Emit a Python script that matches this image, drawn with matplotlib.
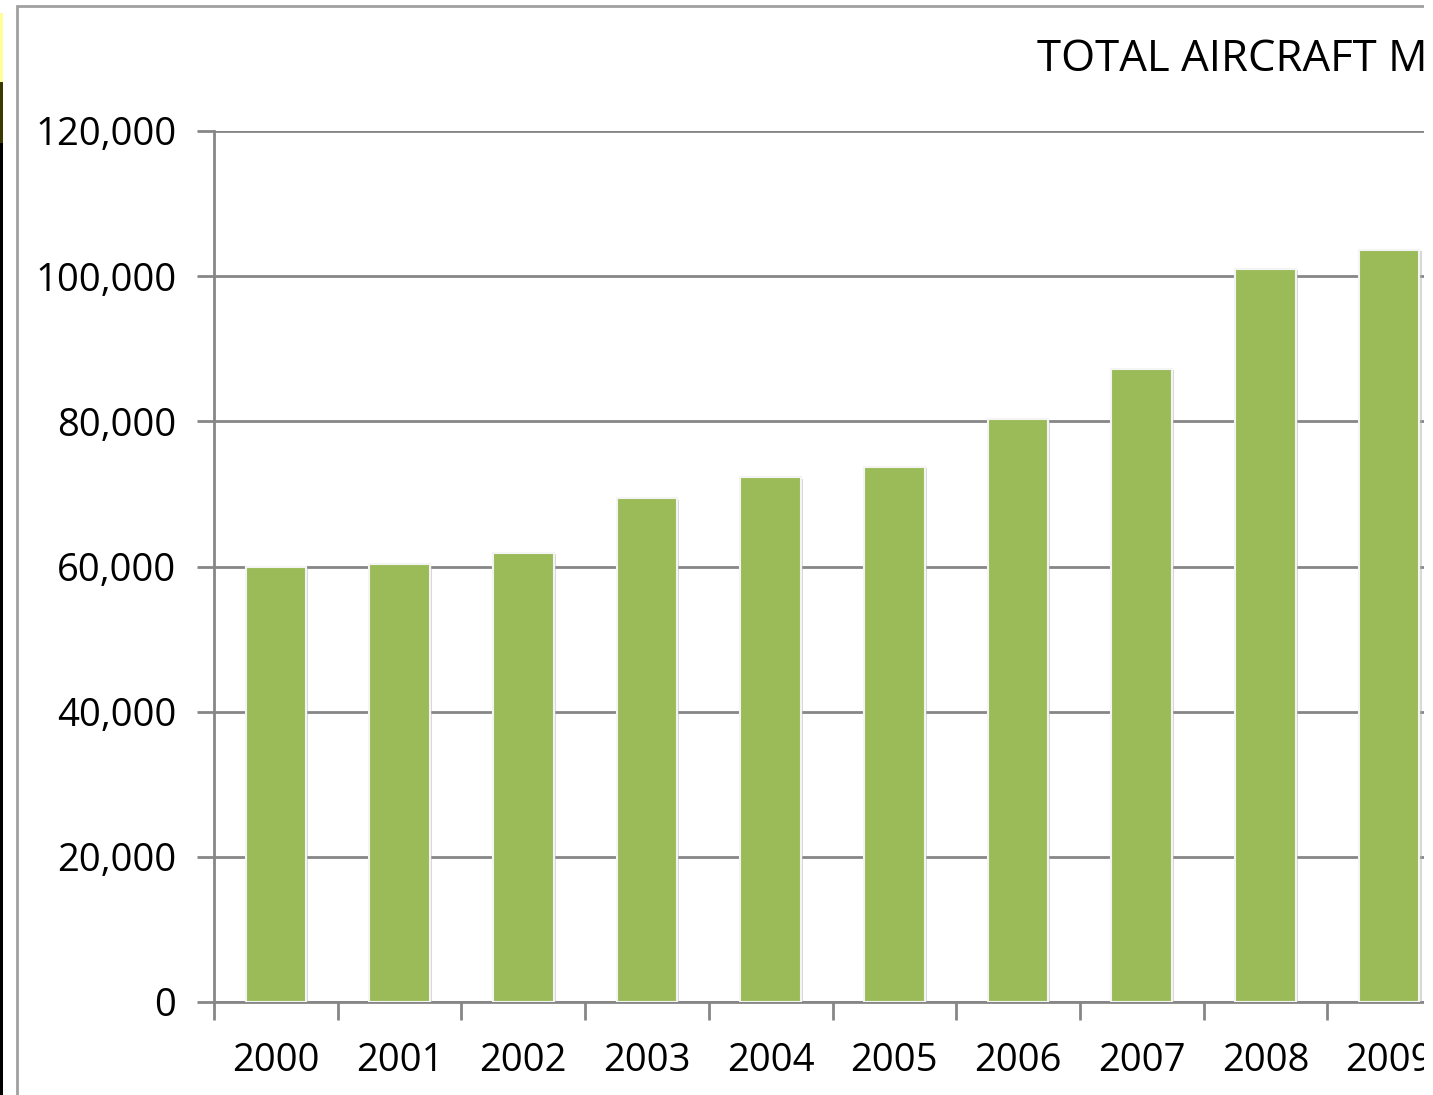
import numpy as np
import matplotlib.pyplot as plt
from matplotlib.patches import Rectangle
import matplotlib.patheffects as pe
from matplotlib.ticker import FuncFormatter

years = ['2000', '2001', '2002', '2003', '2004', '2005', '2006', '2007', '2008', '2009']
movements = [60000, 60300, 61900, 69400, 72300, 73700, 80300, 87200, 101000, 103600]

plt.rcParams['font.family'] = ['Open Sans', 'DejaVu Sans']

W, H = 1433, 1095
fig = plt.figure(figsize=(W / 100, H / 100), dpi=100)
fig.patch.set_facecolor('white')

# axes run past the right edge, the source picture is cropped there
ax = fig.add_axes([214 / W, (H - 1002) / H, 1237 / W, 871 / H])
x = np.arange(len(years))
bars = ax.bar(x, movements, width=0.49, color='#9BBB59', edgecolor='#f4f4f4',
              linewidth=1.5, zorder=3)
for b in bars:
    b.set_path_effects([pe.SimplePatchShadow(offset=(1.5, -1), shadow_rgbFace='#b0b0b0', alpha=0.5),
                        pe.Normal()])

ax.set_xlim(-0.5, len(years) - 0.5)
ax.set_ylim(0, 120000)
ax.set_yticks(np.arange(0, 120001, 20000))
ax.yaxis.set_major_formatter(FuncFormatter(lambda v, p: f'{int(v):,}'))
ax.grid(axis='y', color='#868686', linewidth=2, zorder=0)
ax.set_xticks(x)
ax.set_xticklabels(years)
ax.set_xticks(np.arange(-0.5, len(years), 1), minor=True)
ax.tick_params(axis='x', which='major', length=0, pad=29, labelsize=27.5)
ax.tick_params(axis='x', which='minor', length=13, width=2, color='#868686')
ax.tick_params(axis='y', length=12, width=2, color='#868686', pad=15, labelsize=27.5)
for s in ['top', 'right']:
    ax.spines[s].set_visible(False)
for s in ['left', 'bottom']:
    ax.spines[s].set_color('#868686')
    ax.spines[s].set_linewidth(2)

fig.text(1037 / W, 1 - 60 / H, 'TOTAL AIRCRAFT MOVEMENTS', ha='left', va='center', fontsize=31.5)

# chart frame
fig.patches.append(Rectangle((17 / W, -0.1), 2, 1.1 - 6 / H, transform=fig.transFigure,
                             fill=False, edgecolor='#a0a0a0', linewidth=2, zorder=5))
# crop on the right
fig.patches.append(Rectangle((1424 / W, 0), 1, 1, transform=fig.transFigure,
                             facecolor='white', edgecolor='none', zorder=10))
# strip on the far left
fig.patches.append(Rectangle((0, 0), 3 / W, (H - 143) / H, transform=fig.transFigure,
                             facecolor='black', edgecolor='none', zorder=10))
fig.patches.append(Rectangle((0, (H - 143) / H), 3 / W, 61 / H, transform=fig.transFigure,
                             facecolor='#3a3a00', edgecolor='none', zorder=10))
fig.patches.append(Rectangle((0, (H - 82) / H), 3 / W, 69 / H, transform=fig.transFigure,
                             facecolor='#ffff99', edgecolor='none', zorder=10))

fig.savefig('out.png', dpi=100)
